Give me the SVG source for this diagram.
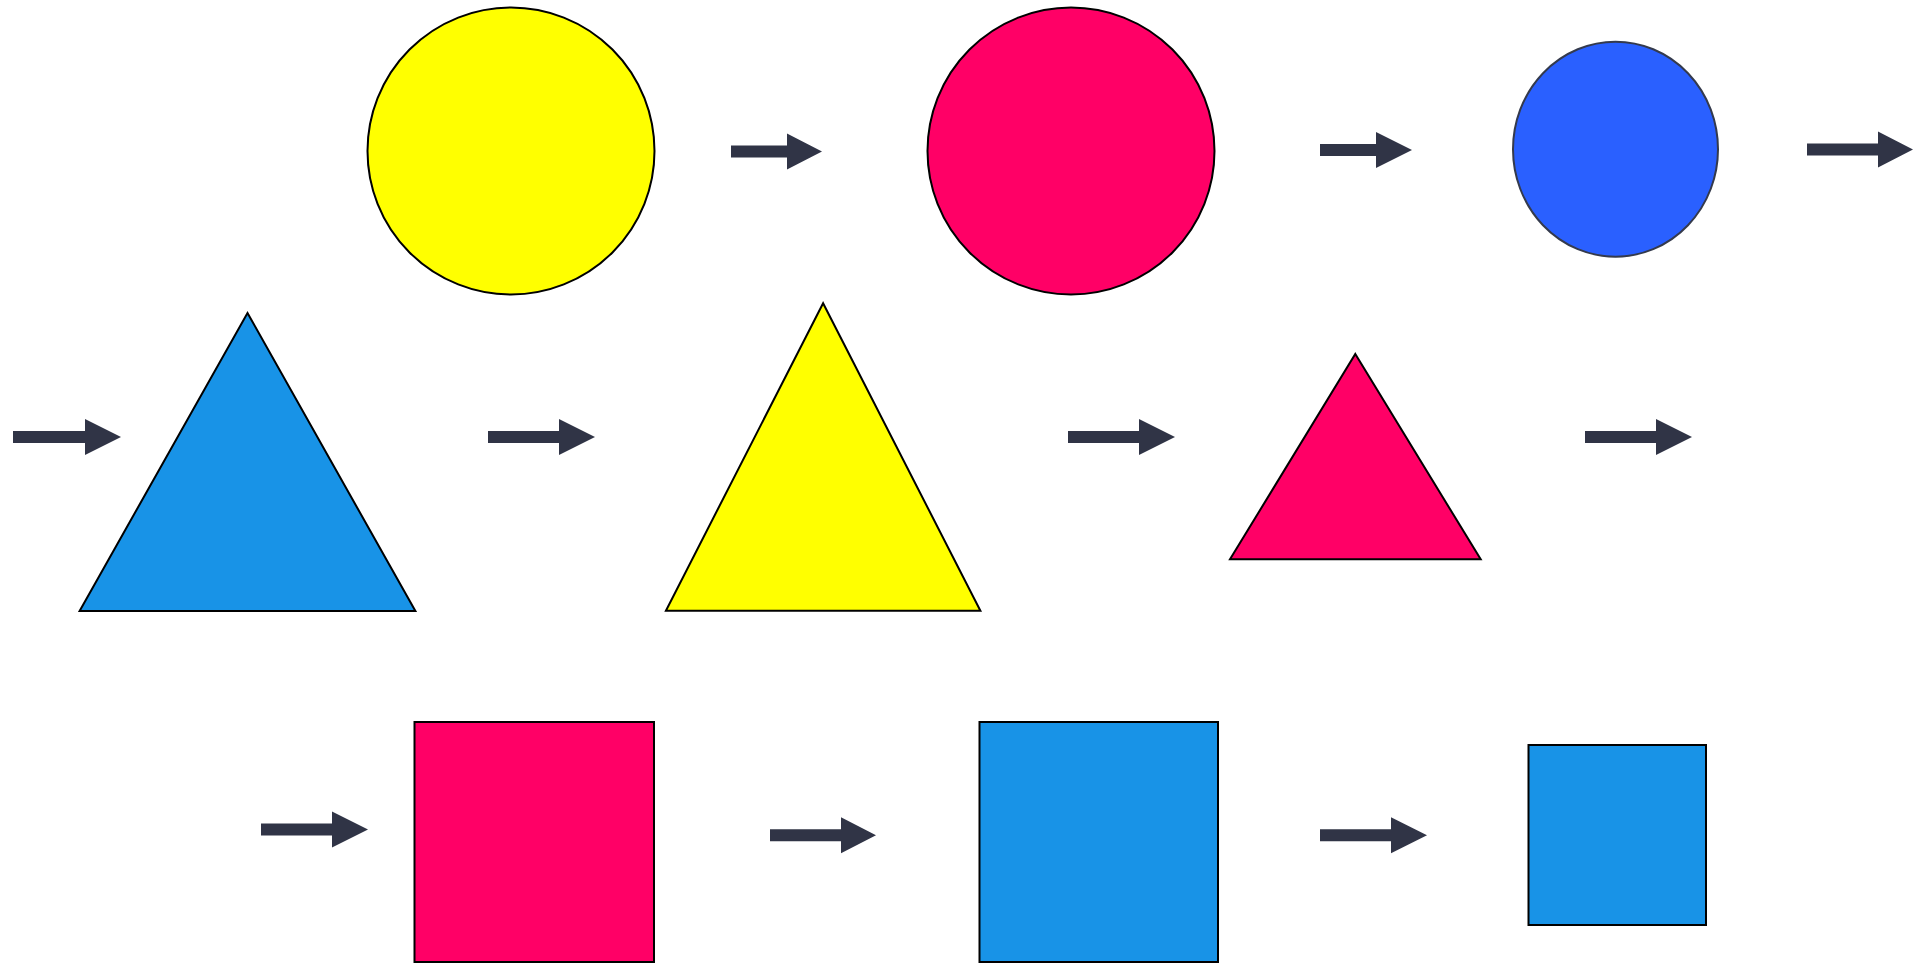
<svg xmlns="http://www.w3.org/2000/svg" width="1921" height="963" viewBox="0 0 1921 963">
<style>
.shape{stroke:#000;stroke-width:2}
.yellow{fill:#ffff00}
.pink{fill:#ff0066}
.sky{fill:#1893e7}
.royal{fill:#2a60ff;stroke:#343a4c;stroke-width:2}
.arrow{fill:#303446}
</style>
<rect width="1921" height="963" fill="#fff"/>
<g id="circle-yellow"><circle class="shape yellow" cx="511" cy="151" r="143.5"/></g>
<g id="circle-pink"><circle class="shape pink" cx="1071" cy="151" r="143.5"/></g>
<g id="ellipse-blue"><ellipse class="royal" cx="1615.5" cy="149.2" rx="102.5" ry="107.5"/></g>
<g id="triangle-blue"><polygon class="shape sky" points="247.5,313 415.4,611 79.6,611"/></g>
<g id="triangle-yellow"><polygon class="shape yellow" points="823.1,303.3 980.4,610.7 665.9,610.7"/></g>
<g id="triangle-pink"><polygon class="shape pink" points="1355.3,354 1480.7,559.3 1230,559.3"/></g>
<g id="square-pink"><rect class="shape pink" x="414.5" y="722" width="239.5" height="240"/></g>
<g id="square-blue-1"><rect class="shape sky" x="979.5" y="722" width="238.5" height="240"/></g>
<g id="square-blue-2"><rect class="shape sky" x="1528.5" y="745" width="177.5" height="180"/></g>
<g id="connectors">
<polygon class="arrow" points="731,145.5 787,145.5 787,133.5 822,151.5 787,169.5 787,157.5 731,157.5"/>
<polygon class="arrow" points="1320,144 1376,144 1376,132 1412,150 1376,168 1376,156 1320,156"/>
<polygon class="arrow" points="1807,143.5 1878,143.5 1878,131.5 1913,149.5 1878,167.5 1878,155.5 1807,155.5"/>
<polygon class="arrow" points="13,431 85,431 85,419 121,437 85,455 85,443 13,443"/>
<polygon class="arrow" points="488,431 559,431 559,419 595,437 559,455 559,443 488,443"/>
<polygon class="arrow" points="1068,431 1139,431 1139,419 1175,437 1139,455 1139,443 1068,443"/>
<polygon class="arrow" points="1585,431 1656,431 1656,419 1692,437 1656,455 1656,443 1585,443"/>
<polygon class="arrow" points="261,823.5 332,823.5 332,811.5 368,829.5 332,847.5 332,835.5 261,835.5"/>
<polygon class="arrow" points="770,829.3 841,829.3 841,817.3 876,835.3 841,853.3 841,841.3 770,841.3"/>
<polygon class="arrow" points="1320,829.3 1391,829.3 1391,817.3 1427,835.3 1391,853.3 1391,841.3 1320,841.3"/>
</g>
</svg>
